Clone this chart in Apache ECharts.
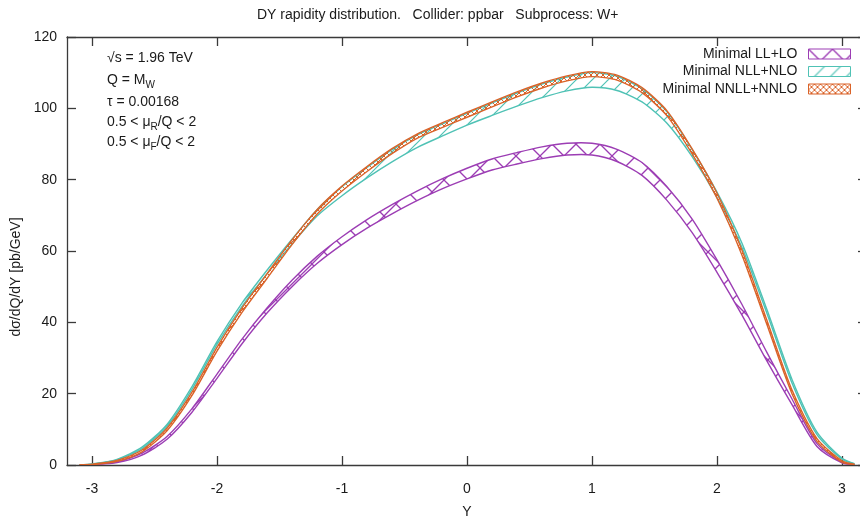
<!DOCTYPE html>
<html><head><meta charset="utf-8">
<script src="https://cdn.jsdelivr.net/npm/echarts@6/dist/echarts.min.js"></script>
<style>html,body{margin:0;padding:0;background:#fff;overflow:hidden;width:860px;height:524px}#c{width:868px;height:524px}</style>
</head><body><div id="c"></div>
<script>
// ---- data ----
const rapidity = [-3.1,-3.0,-2.8,-2.6,-2.4,-2.2,-2.0,-1.8,-1.6,-1.4,-1.2,-1.0,-0.8,-0.6,-0.4,-0.2,0.0,0.2,0.4,0.6,0.8,1.0,1.2,1.4,1.6,1.8,2.0,2.2,2.4,2.6,2.8,3.0,3.1];

const llLoLow  = [0,0.1,0.7,2.8,7.2,14.8,24.3,34.0,42.6,50.0,56.5,61.8,66.4,70.4,74.1,77.4,80.2,82.7,84.4,85.9,86.9,86.9,85.1,81.2,74.2,65.2,54.0,42.0,29.1,16.9,5.2,0.6,0.1];
const llLoHigh = [0,0.1,0.9,3.3,8.0,15.8,25.5,35.3,44.0,51.8,58.5,64.0,68.8,73.0,76.8,80.2,83.2,85.8,87.6,89.2,90.2,90.2,88.5,84.8,78.0,69.0,57.5,45.0,31.5,18.5,6.0,0.8,0.1];

const nllNloLow  = [0,0.2,1.4,4.6,10.8,21.2,33.8,44.5,53.6,62.0,69.8,75.5,80.5,85.0,89.0,92.2,95.3,98.0,100.6,103.0,104.9,105.9,105.0,101.8,95.8,86.5,75.0,61.0,42.5,23.0,8.5,1.6,0.3];
const nllNloHigh = [0,0.3,1.6,5.0,11.4,22.0,34.6,45.4,54.6,63.3,71.6,78.0,83.4,88.4,92.5,95.6,98.6,101.5,104.3,106.8,108.8,110.0,109.0,105.5,99.0,88.5,76.5,62.2,43.5,24.0,9.2,1.9,0.4];

const nnllNnloLow  = [0,0.1,1.0,3.7,9.6,19.5,31.9,42.8,52.3,61.8,70.3,76.8,82.3,87.3,91.6,94.6,97.5,100.4,103.2,105.7,107.7,108.9,107.9,104.4,97.9,87.3,74.8,58.8,39.3,20.0,6.6,0.8,0.1];
const nnllNnloHigh = [0,0.2,1.3,4.2,10.3,20.4,33.0,44.0,53.6,63.1,71.6,78.2,83.7,88.7,92.8,95.9,98.9,101.8,104.6,107.1,109.1,110.3,109.3,105.8,99.3,88.7,76.2,60.2,40.5,21.0,7.4,1.2,0.2];

const seriesNames = ['Minimal LL+LO','Minimal NLL+NLO','Minimal NNLL+NNLO'];
const xTicks = [-3,-2,-1,0,1,2,3];
const titleText = 'DY rapidity distribution.   Collider: ppbar   Subprocess: W+';
const yAxisTitle = 'dσ/dQ/dY [pb/GeV]';
const xAxisTitle = 'Y';

// ---- styling ----
const FONT = 'Liberation Sans, Arial, Helvetica, sans-serif';
const PURPLE = '#9c3db4', TEAL = '#4fc2b5', ORANGE = '#da6329';
const AXIS = '#3a3a3a', TXT = '#1a1a1a';

function hatch(color, fwd, back, s, lw) {
  const c = document.createElement('canvas'); c.width = s; c.height = s;
  const g = c.getContext('2d'); g.strokeStyle = color; g.lineWidth = lw;
  const ln = (a,b,cc,d)=>{ g.beginPath(); g.moveTo(a,b); g.lineTo(cc,d); g.stroke(); };
  if (fwd)  for (const k of [0, s, 2*s]) ln(-s, k + s, 2*s, k - 2*s);   // "/"
  if (back) for (const k of [-s, 0, s])  ln(-s, k - s, 2*s, k + 2*s);   // "\"
  return { image: c, repeat: 'repeat' };
}
const patP = hatch(PURPLE, true, true, 24, 1.3);
const patT = hatch(TEAL, true, false, 16, 1.2);
const patO = hatch(ORANGE, true, true, 6, 1.0);

function band(name, low, high, color, pat, z) {
  return { type:'custom', name, silent:true, z, clip:true,
    data: rapidity.map((x,i)=>[x, low[i], high[i]]),
    encode:{ x:0, y:[1,2] },
    renderItem:(params, api)=>{
      if (params.dataIndex !== 0) return null;
      const lo = rapidity.map((x,i)=>api.coord([x, low[i]]));
      const hi = rapidity.map((x,i)=>api.coord([x, high[i]]));
      const sm = 0.25;
      return { type:'group', children:[
        { type:'polygon', shape:{ points: hi.concat(lo.slice().reverse()), smooth: sm }, style:{ fill: pat, stroke:null } },
        { type:'polyline', shape:{ points: lo, smooth: sm }, style:{ fill:null, stroke:color, lineWidth:1.4 } },
        { type:'polyline', shape:{ points: hi, smooth: sm }, style:{ fill:null, stroke:color, lineWidth:1.4 } }
      ]};
    } };
}

const chart = echarts.init(document.getElementById('c'), null, { renderer:'canvas' });
const axisLine = { show:true, onZero:false, lineStyle:{ color:AXIS, width:1.3 } };
const tick = (vals)=>({ show:true, inside:true, length:9, customValues: vals, lineStyle:{ color:AXIS, width:1.3 } });
const labelStyle = { fontSize:14, color:TXT, fontFamily:FONT };

chart.setOption({
  animation:false,
  backgroundColor:'#fff',
  title:{ text:titleText, left:252, top:3, textStyle:{ fontSize:14, fontWeight:'normal', color:TXT, fontFamily:FONT } },
  grid:{ left:67, top:37, right:1, bottom:57, containLabel:false },
  legend:{
    orient:'vertical', right:17, top:47, padding:0, align:'right', itemWidth:42, itemHeight:10, itemGap:3.5,
    selectedMode:false,
    textStyle:{ fontSize:14, color:TXT, fontFamily:FONT, padding:[0,6,0,0] },
    data:[
      { name:seriesNames[0], icon:'rect', itemStyle:{ color:patP, borderColor:PURPLE, borderWidth:1 } },
      { name:seriesNames[1], icon:'rect', itemStyle:{ color:patT, borderColor:TEAL, borderWidth:1 } },
      { name:seriesNames[2], icon:'rect', itemStyle:{ color:patO, borderColor:ORANGE, borderWidth:1 } }
    ]
  },
  xAxis:[
    { type:'value', min:-3.2, max:3.2, position:'bottom', axisLine, axisTick:tick(xTicks),
      axisLabel:Object.assign({ customValues:xTicks, margin:17 }, labelStyle), splitLine:{show:false},
      name:xAxisTitle, nameLocation:'middle', nameGap:40, nameTextStyle:labelStyle },
    { type:'value', min:-3.2, max:3.2, position:'top', axisLine, axisTick:tick(xTicks),
      axisLabel:{ show:false }, splitLine:{show:false} }
  ],
  yAxis:[
    { type:'value', min:0, max:120, interval:20, position:'left', axisLine, axisTick:{ show:true, inside:true, length:9, lineStyle:{ color:AXIS, width:1.3 } },
      axisLabel:Object.assign({ margin:10 }, labelStyle), splitLine:{show:false} },
    { type:'value', min:0, max:120, interval:20, position:'right', axisLine, axisTick:{ show:true, inside:true, length:9, lineStyle:{ color:AXIS, width:1.3 } },
      axisLabel:{ show:false }, splitLine:{show:false} }
  ],
  series:[
    band(seriesNames[0], llLoLow, llLoHigh, PURPLE, patP, 2),
    band(seriesNames[1], nllNloLow, nllNloHigh, TEAL, patT, 4),
    band(seriesNames[2], nnllNnloLow, nnllNnloHigh, ORANGE, patO, 6)
  ],
  graphic:[
    { type:'text', x:16, y:277, rotation:Math.PI/2, style:{ text:yAxisTitle, fontSize:14, fill:TXT, fontFamily:FONT, align:'center', verticalAlign:'middle' } },
    { type:'text', x:107, y:58, style:{ text:'√s = 1.96 TeV', fontSize:14, fill:TXT, fontFamily:FONT, verticalAlign:'middle' } },
    { type:'text', x:107, y:80, style:{ text:'Q = M{s|W}', fontSize:14, fill:TXT, fontFamily:FONT, verticalAlign:'middle',
        rich:{ s:{ fontSize:10, fill:TXT, fontFamily:FONT, padding:[10,0,0,0] } } } },
    { type:'text', x:107, y:102, style:{ text:'τ = 0.00168', fontSize:14, fill:TXT, fontFamily:FONT, verticalAlign:'middle' } },
    { type:'text', x:107, y:122, style:{ text:'0.5 < μ{s|R}/Q < 2', fontSize:14, fill:TXT, fontFamily:FONT, verticalAlign:'middle',
        rich:{ s:{ fontSize:10, fill:TXT, fontFamily:FONT, padding:[10,0,0,0] } } } },
    { type:'text', x:107, y:142, style:{ text:'0.5 < μ{s|F}/Q < 2', fontSize:14, fill:TXT, fontFamily:FONT, verticalAlign:'middle',
        rich:{ s:{ fontSize:10, fill:TXT, fontFamily:FONT, padding:[10,0,0,0] } } } }
  ]
});
</script>
</body></html>
